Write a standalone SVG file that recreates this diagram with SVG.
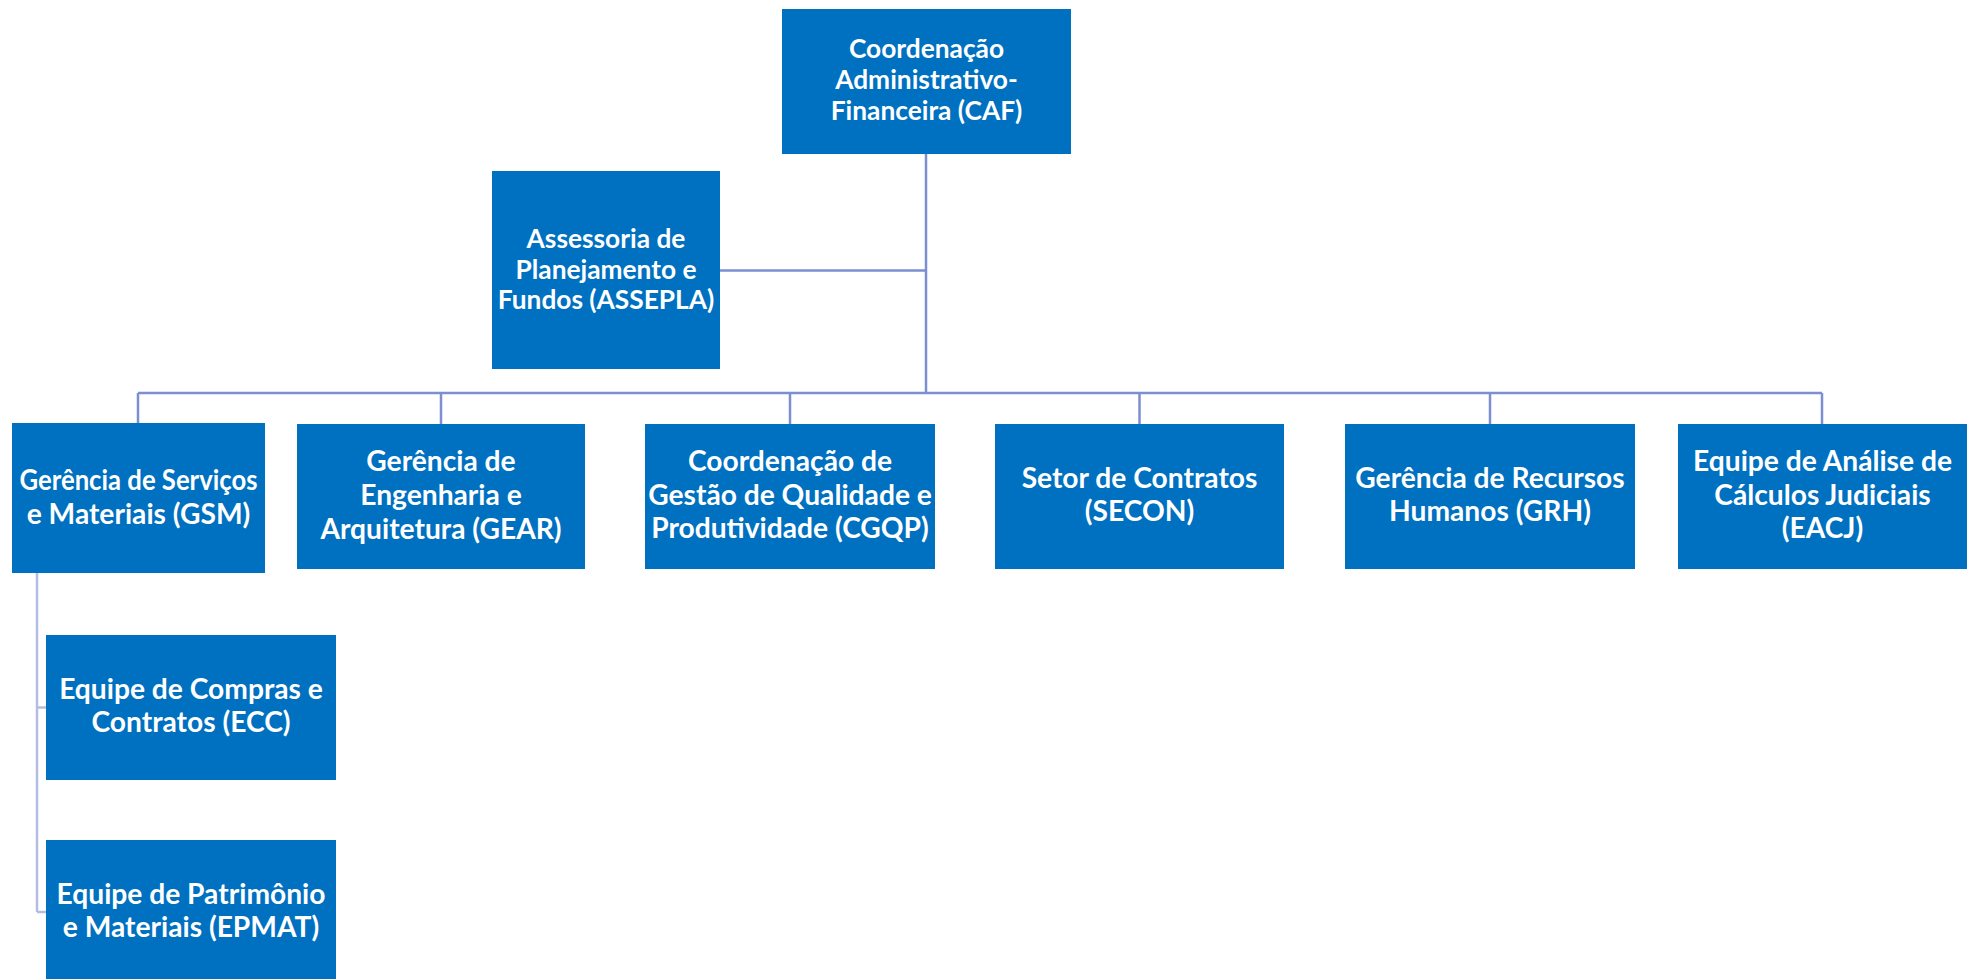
<svg xmlns="http://www.w3.org/2000/svg" width="1968" height="979" viewBox="0 0 1968 979">
<style>
.box{fill:#0070C0}
.t{font-family:Lato,"Liberation Sans",sans-serif;font-weight:bold;fill:#FFFFFF;text-anchor:middle}
.s{font-size:26.3px}
.b{font-size:28.2px}
.c{fill:none;stroke:#7B8FD1;stroke-width:2.5}
.c2{fill:none;stroke:#B3BDE3;stroke-width:2.5}
</style>
<rect width="1968" height="979" fill="#FFFFFF"/>
<g id="connectors">
<path class="c" d="M926,154 V393 M720,270.5 H926 M138,393 H1822 M138,393 V424 M441,393 V424 M790,393 V424 M1139.5,393 V424 M1490,393 V424 M1822,393 V424"/>
<path class="c2" d="M37,573 V912 M37,707.5 H46 M37,912 H46"/>
</g>
<g id="caf">
<rect class="box" x="782" y="9" width="289" height="145"/>
<text class="t s"><tspan x="926.5" y="58">Coordenação</tspan><tspan x="926.5" y="89">Administrativo-</tspan><tspan x="926.5" y="120">Financeira (CAF)</tspan></text>
</g>
<g id="assepla">
<rect class="box" x="492" y="171" width="228" height="198"/>
<text class="t s"><tspan x="606" y="248">Assessoria de</tspan><tspan x="606" y="278.5">Planejamento e</tspan><tspan x="606" y="309">Fundos (ASSEPLA)</tspan></text>
</g>
<g id="gsm">
<rect class="box" x="12" y="423" width="253" height="150"/>
<text class="t b" x="138.5" y="489.5" textLength="238" lengthAdjust="spacingAndGlyphs">Gerência de Serviços</text>
<text class="t b" x="138.5" y="523.5">e Materiais (GSM)</text>
</g>
<g id="gear">
<rect class="box" x="297" y="424" width="288" height="145"/>
<text class="t b"><tspan x="441" y="470.5">Gerência de</tspan><tspan x="441" y="504.5">Engenharia e</tspan><tspan x="441" y="538.5">Arquitetura (GEAR)</tspan></text>
</g>
<g id="cgqp">
<rect class="box" x="645" y="424" width="290" height="145"/>
<text class="t b"><tspan x="790" y="470.5">Coordenação de</tspan><tspan x="790" y="504.5">Gestão de Qualidade e</tspan><tspan x="790" y="538">Produtividade (CGQP)</tspan></text>
</g>
<g id="secon">
<rect class="box" x="995" y="424" width="289" height="145"/>
<text class="t b"><tspan x="1139.5" y="487.5">Setor de Contratos</tspan><tspan x="1139.5" y="521">(SECON)</tspan></text>
</g>
<g id="grh">
<rect class="box" x="1345" y="424" width="290" height="145"/>
<text class="t b"><tspan x="1490" y="487.5">Gerência de Recursos</tspan><tspan x="1490" y="521">Humanos (GRH)</tspan></text>
</g>
<g id="eacj">
<rect class="box" x="1678" y="424" width="289" height="145"/>
<text class="t b"><tspan x="1822.5" y="470.5">Equipe de Análise de</tspan><tspan x="1822.5" y="504.5">Cálculos Judiciais</tspan><tspan x="1822.5" y="538">(EACJ)</tspan></text>
</g>
<g id="ecc">
<rect class="box" x="46" y="635" width="290" height="145"/>
<text class="t b"><tspan x="191" y="699">Equipe de Compras e</tspan><tspan x="191" y="732">Contratos (ECC)</tspan></text>
</g>
<g id="epmat">
<rect class="box" x="46" y="840" width="290" height="144"/>
<text class="t b"><tspan x="191" y="904">Equipe de Patrimônio</tspan><tspan x="191" y="937">e Materiais (EPMAT)</tspan></text>
</g>
</svg>
